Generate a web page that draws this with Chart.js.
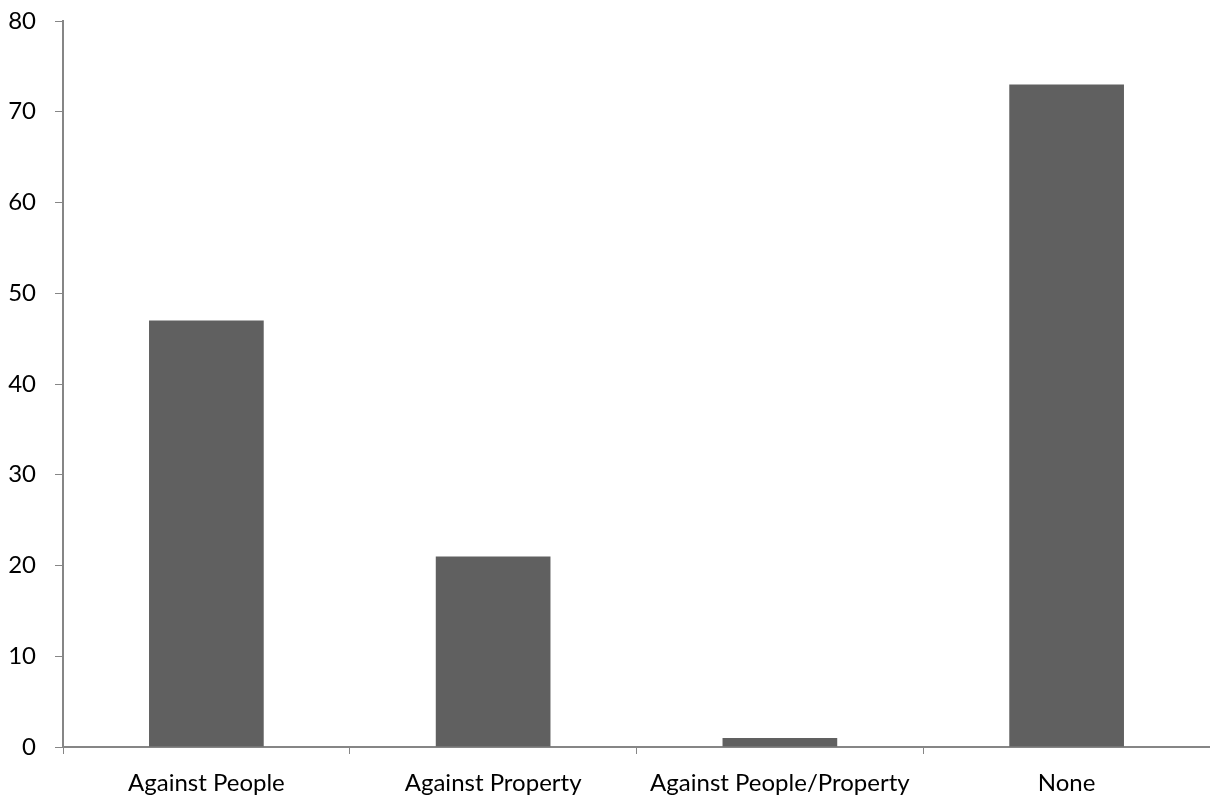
<!DOCTYPE html>
<html>
<head>
<meta charset="utf-8">
<script src="https://cdn.jsdelivr.net/npm/chart.js@4"></script>
<style>
  html, body { margin: 0; padding: 0; background: #fff; }
  #wrap { width: 1210px; height: 797px; }
</style>
</head>
<body>
<div id="wrap"><canvas id="myChart"></canvas></div>
<script>
var categories = ['Against People', 'Against Property', 'Against People/Property', 'None'];
var counts = [47, 21, 1, 73];
var yMin = 0, yMax = 80, yStep = 10;

var axisColor = '#868686';
var labelFont = { family: 'Lato', size: 24 };
var ctx = document.getElementById("myChart");
var myBarChart = new Chart(ctx, {
    type: 'bar',
    data: {
        labels: categories,
        datasets: [{
            data: counts,
            backgroundColor: '#606060',
            categoryPercentage: 1,
            barPercentage: 0.4
        }]
    },
    options: {
        responsive: true,
        maintainAspectRatio: false,
        animation: false,
        layout: { padding: { top: 21, right: 0, left: 0, bottom: 0 } },
        plugins: { legend: { display: false }, tooltip: { enabled: false } },
        scales: {
            x: {
                offset: true,
                grid: { offset: true, drawOnChartArea: false, drawTicks: true, tickLength: 7, color: axisColor },
                border: { color: axisColor, width: 2 },
                ticks: { color: '#000', font: labelFont, padding: 15, maxRotation: 0 },
                afterFit: function (s) { s.height = 50; s.paddingLeft = 0; s.paddingRight = 0; }
            },
            y: {
                min: yMin, max: yMax,
                grid: { drawOnChartArea: false, drawTicks: true, tickLength: 8, color: axisColor },
                border: { color: axisColor, width: 2 },
                ticks: { stepSize: yStep, color: '#000', font: labelFont, padding: 19 },
                afterFit: function (s) { s.width = 63; s.paddingTop = 0; s.paddingBottom = 0; }
            }
        }
    }
});
</script>
</body>
</html>
